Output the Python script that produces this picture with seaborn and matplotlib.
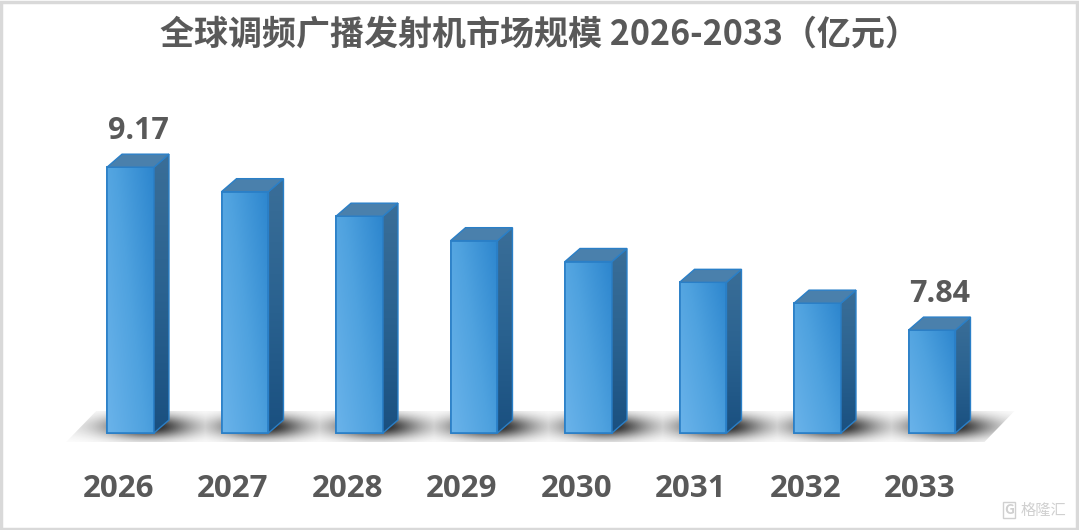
import numpy as np
import pandas as pd
import matplotlib
matplotlib.use("Agg")
import matplotlib.pyplot as plt
import seaborn as sns
from matplotlib.patches import Polygon, Rectangle
from matplotlib.colors import LinearSegmentedColormap
import matplotlib.transforms as mtransforms

# ==================================
# DATA
# ==================================
years = ["2026", "2027", "2028", "2029", "2030", "2031", "2032", "2033"]
market_size = [9.17, 8.97, 8.77, 8.57, 8.40, 8.23, 8.06, 7.84]
labelled_years = ["2026", "2033"]
title = "全球调频广播发射机市场规模 2026-2033（亿元）"
axis_base = 7.0

df = pd.DataFrame({"Year": years, "Size": market_size})
df["Excess"] = df["Size"] - axis_base

# ==================================
# FIGURE
# ==================================
sns.set_style("white")
plt.rcParams["font.family"] = ["Noto Sans CJK SC", "DejaVu Sans"]

fig = plt.figure(figsize=(10.79, 5.30), dpi=100)
ax = fig.add_axes([0, 0, 1, 1])

sns.barplot(data=df, x="Year", y="Excess", bottom=axis_base, width=0.41,
            color="#4a9ddd", edgecolor="#2a7fc7", linewidth=1.2,
            ax=ax, zorder=3)

# pixel scale: 114.5 px per category, 122.5 px per unit
px_x, px_y = 114.5, 122.5
ax.set_xlim(-130.5 / px_x, (1079 - 130.5) / px_x)
ax.set_ylim(axis_base - 97 / px_y, axis_base + 433 / px_y)

dx, dy = 15 / px_x, 13 / px_y
bars = list(ax.patches[:len(years)])

# ---- floor shadow ----
fx0, fx1 = ax.get_xlim()
fy0, fy1 = axis_base - 9 / px_y, axis_base + 22 / px_y
gx = np.linspace(fx0, fx1, 900)
gy = np.linspace(fy0, fy1, 60)
GX, GY = np.meshgrid(gx, gy)
centers = [p.get_x() + p.get_width() / 2 for p in bars]
dark = np.zeros_like(GX)
for c in centers:
    dark = np.maximum(dark, np.exp(-((GX - c - 0.15) / 0.36) ** 2))
yc = axis_base + 6 / px_y
vprof = np.exp(-((GY - yc) / (11 / px_y)) ** 2)
alpha = np.clip(0.9 * dark * vprof + 0.08 * vprof, 0, 1)
rgba = np.zeros(GX.shape + (4,))
rgba[..., :3] = 0.1
rgba[..., 3] = alpha
img = ax.imshow(rgba, extent=[fx0, fx1, fy0, fy1], origin="lower",
                aspect="auto", zorder=1, interpolation="bilinear")
shift = 30 / px_x
left = centers[0] - 0.3
right = centers[-1] + 0.72
floor = Polygon([(left - shift, fy0), (right - shift, fy0), (right, fy1), (left, fy1)],
                closed=True, transform=ax.transData, facecolor="none", edgecolor="none")
ax.add_patch(floor)
img.set_clip_path(floor)

# ---- 3D bar faces ----
front_cmap = LinearSegmentedColormap.from_list("front", ["#6ab3ea", "#4fa2df", "#2d86ce"])
side_cmap = LinearSegmentedColormap.from_list("side", ["#1a5080", "#2a6290", "#3a6e98"])

for p in bars:
    x0, y0 = p.get_x(), p.get_y()
    w, h = p.get_width(), p.get_height()
    x1, y1 = x0 + w, y0 + h
    U, V = np.meshgrid(np.linspace(0, 1, 50), np.linspace(0, 1, 120))
    grad = np.clip(0.6 * U + 0.4 * (1 - V), 0, 1)
    fi = ax.imshow(grad, cmap=front_cmap, extent=[x0, x1, y0, y1], origin="upper",
                   aspect="auto", zorder=3.5, vmin=0, vmax=1)
    fi.set_clip_path(p)
    ax.add_patch(Rectangle((x0, y0), w, h, facecolor="none", edgecolor="#2a7fc7",
                           linewidth=1.2, zorder=3.6))
    side = Polygon([(x1, y0), (x1 + dx, y0 + dy), (x1 + dx, y1 + dy), (x1, y1)],
                   closed=True, facecolor="none", edgecolor="#2a7fc7", linewidth=1.0, zorder=3.8)
    ax.add_patch(side)
    si = ax.imshow(np.linspace(0, 1, 100).reshape(-1, 1), cmap=side_cmap,
                   extent=[x1, x1 + dx, y0, y1 + dy], origin="lower", aspect="auto",
                   zorder=3.7, vmin=0, vmax=1)
    si.set_clip_path(side)
    ax.add_patch(Polygon([(x0, y1), (x0 + dx, y1 + dy), (x1 + dx, y1 + dy), (x1, y1)],
                         closed=True, facecolor="#4a80ac", edgecolor="#2a7fc7",
                         linewidth=1.0, zorder=3.9))

# value labels on first and last bar
for i, (yr, v) in enumerate(zip(years, market_size)):
    if yr in labelled_years:
        ax.annotate(f"{v:.2f}", xy=(i + dx / 2, v + dy), xytext=(0, 6),
                    textcoords="offset points", ha="center", va="bottom",
                    fontsize=22, fontweight="bold", color="#595959", zorder=5,
                    family=["Open Sans", "DejaVu Sans"])

# ---- axes styling ----
sns.despine(ax=ax, left=True, bottom=True)
ax.set_xlabel("")
ax.set_ylabel("")
ax.set_yticks([])
ax.set_xticks(range(len(years)))
ax.set_xticklabels(years, fontsize=22.5, fontweight="bold", color="#595959",
                   family=["Open Sans", "DejaVu Sans"])
ax.tick_params(axis="x", length=0, pad=-40)
offset = mtransforms.ScaledTranslation(-0.12, 0, fig.dpi_scale_trans)
for lab in ax.get_xticklabels():
    lab.set_transform(lab.get_transform() + offset)

fig.text(0.5, 1 - 34 / 530, title, ha="center", va="center", fontsize=24.5,
         fontweight="bold", color="#595959")

# watermark
fig.text(1066 / 1079, 1 - 510 / 530, "格隆汇", ha="right", va="center", fontsize=11,
         color="#d0d0d0")
fig.text(1004 / 1079, 1 - 510 / 530, "G", ha="left", va="center", fontsize=10,
         color="#d0d0d0", fontweight="bold",
         bbox=dict(boxstyle="square,pad=0.05", fc="none", ec="#d0d0d0", lw=1))

# outer border
fig.patches.append(Rectangle((0.001, 0.002), 0.997, 0.995, transform=fig.transFigure,
                             fill=False, edgecolor="#d9d9d9", linewidth=2.5))

fig.savefig("out.png", dpi=100, facecolor="white")
